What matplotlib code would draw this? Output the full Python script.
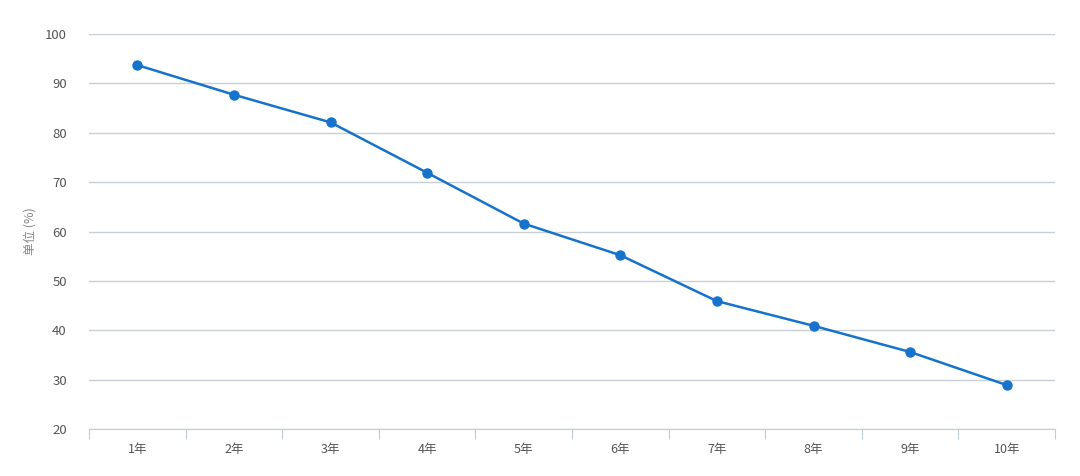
import numpy as np
import matplotlib.pyplot as plt

plt.rcParams['font.family'] = ['Noto Sans CJK SC', 'DejaVu Sans']

# 数据
years = ['1年', '2年', '3年', '4年', '5年', '6年', '7年', '8年', '9年', '10年']
values = [93.7, 87.7, 82.1, 71.9, 61.6, 55.2, 45.9, 40.9, 35.6, 28.9]
y_ticks = [20, 30, 40, 50, 60, 70, 80, 90, 100]

fig = plt.figure(figsize=(10.8, 4.76), dpi=100)
ax = fig.add_axes([0.0824, 0.0987, 0.8945, 0.8299])

x = np.arange(len(years))
ax.plot(x, values, color='#1673cc', linewidth=1.8, marker='o', markersize=6.5, zorder=3)

ax.set_xlim(-0.5, len(years) - 0.5)
ax.set_ylim(20, 100)
ax.set_yticks(y_ticks)
ax.grid(axis='y', color='#c8d0d6', linewidth=1)
ax.set_axisbelow(True)

# x 轴刻度在分类边界
ax.set_xticks(np.arange(-0.5, len(years)), minor=False)
ax.set_xticklabels([''] * (len(years) + 1))
ax.set_xticks(x, minor=True)
ax.set_xticklabels(years, minor=True)
ax.tick_params(axis='x', which='major', length=7, color='#c0ccd6', direction='out')
ax.tick_params(axis='x', which='minor', length=0, pad=10, labelsize=9, labelcolor='#555555')
ax.tick_params(axis='y', length=0, pad=16, labelsize=9.5, labelcolor='#555555')

for s in ['top', 'right', 'left']:
    ax.spines[s].set_visible(False)
ax.spines['bottom'].set_color('#c0ccd6')

ax.set_ylabel('单位 (%)', fontsize=9, color='#888888', labelpad=6)

fig.savefig('out.png', dpi=100)
